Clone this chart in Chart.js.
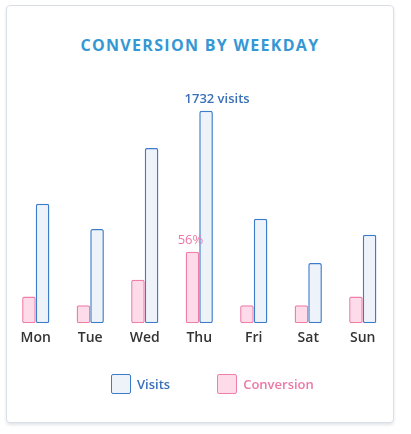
<!DOCTYPE html>
<html>
<head>
<meta charset="utf-8">
<title>Conversion by weekday</title>
<script src="https://cdn.jsdelivr.net/npm/chart.js"></script>
<style>
  body { margin:0; background:#fff; font-family:"Open Sans", sans-serif; }
  .card { position:absolute; left:6px; top:5px; width:386px; height:416px;
          border:1px solid #d9dee6; border-radius:4px; box-shadow:0 2px 3px rgba(60,80,110,0.15); }
  h1 { position:absolute; left:6px; top:35px; width:388px; margin:0; line-height:20px;
       text-align:center; font-size:16px; font-weight:700; letter-spacing:1.3px; color:#3597d3; }
  #chart { position:absolute; left:0; top:0; }
  #legend { position:absolute; left:111px; top:374px; display:flex; }
  #legend .item { display:flex; align-items:center; height:20px; margin-right:47px;
                  font-size:13px; font-weight:600; }
  #legend .item i { width:20px; height:20px; box-sizing:border-box; border:1.5px solid;
                    border-radius:2px; margin-right:6px; }
</style>
</head>
<body>
<div class="card"></div>
<h1>CONVERSION BY WEEKDAY</h1>
<canvas id="chart" width="411" height="434"></canvas>
<div id="legend"></div>
<script>
    const days = ['Mon', 'Tue', 'Wed', 'Thu', 'Fri', 'Sat', 'Sun'];
    const visits = [975, 768, 1430, 1732, 852, 492, 722];
    const conversion = [21, 14, 34, 56, 14, 14, 21];   // percent

    // label only the best day of each series
    const peakLabels = {
        id: 'peakLabels',
        afterDatasetsDraw(chart) {
            const ctx = chart.ctx;
            chart.data.datasets.forEach((ds, i) => {
                const k = ds.data.indexOf(Math.max(...ds.data));
                const bar = chart.getDatasetMeta(i).data[k];
                const p = ds.peak;
                ctx.save();
                ctx.font = p.font;
                ctx.fillStyle = ds.textColor;
                ctx.textAlign = p.align;
                const x = p.align === 'right' ? bar.x + bar.width / 2 : bar.x;
                ctx.fillText(p.text(ds.data[k]), x + p.dx, bar.y - 8);
                ctx.restore();
            });
        }
    };

    const htmlLegend = {
        id: 'htmlLegend',
        afterUpdate(chart) {
            const box = document.getElementById('legend');
            box.innerHTML = '';
            chart.data.datasets.slice().reverse().forEach(ds => {
                const item = document.createElement('span');
                item.className = 'item';
                item.style.color = ds.textColor;
                const sw = document.createElement('i');
                sw.style.background = ds.backgroundColor;
                sw.style.borderColor = ds.borderColor;
                item.append(sw, ds.label);
                box.append(item);
            });
        }
    };

    const ctx = document.getElementById('chart').getContext('2d');
    window.myChart = new Chart(ctx, {
        type: 'bar',
        data: {
            labels: days,
            datasets: [{
                label: 'Conversion',
                data: conversion,
                yAxisID: 'yConv',
                backgroundColor: '#fedbe8',
                borderColor: '#f07eaa',
                textColor: '#ec78a6',
                peak: { text: v => v + '%', align: 'right', dx: 4, font: '500 13px "Open Sans"' }
            }, {
                label: 'Visits',
                data: visits,
                yAxisID: 'y',
                backgroundColor: '#eef3fa',
                borderColor: '#3d7cc9',
                textColor: '#3a70b8',
                peak: { text: v => v + ' visits', align: 'center', dx: 11, font: '600 13px "Open Sans"' }
            }]
        },
        options: {
            responsive: false,
            animation: false,
            layout: { padding: { left: 8.5, right: 21, top: 78, bottom: 82 } },
            datasets: {
                bar: {
                    categoryPercentage: 0.5,
                    barPercentage: 1.0,
                    borderWidth: 1.5,
                    borderRadius: 2,
                    borderSkipped: false
                }
            },
            plugins: {
                legend: { display: false },
                tooltip: { enabled: false }
            },
            scales: {
                x: {
                    grid: { display: false, drawTicks: false },
                    border: { display: false },
                    ticks: { padding: 6, color: '#333', font: { family: 'Open Sans', size: 14, weight: 600 } }
                },
                y: { display: false, min: 0, max: 2000 },
                yConv: { display: false, min: 0, max: 192 }
            }
        },
        plugins: [peakLabels, htmlLegend]
    });
</script>
</body>
</html>
